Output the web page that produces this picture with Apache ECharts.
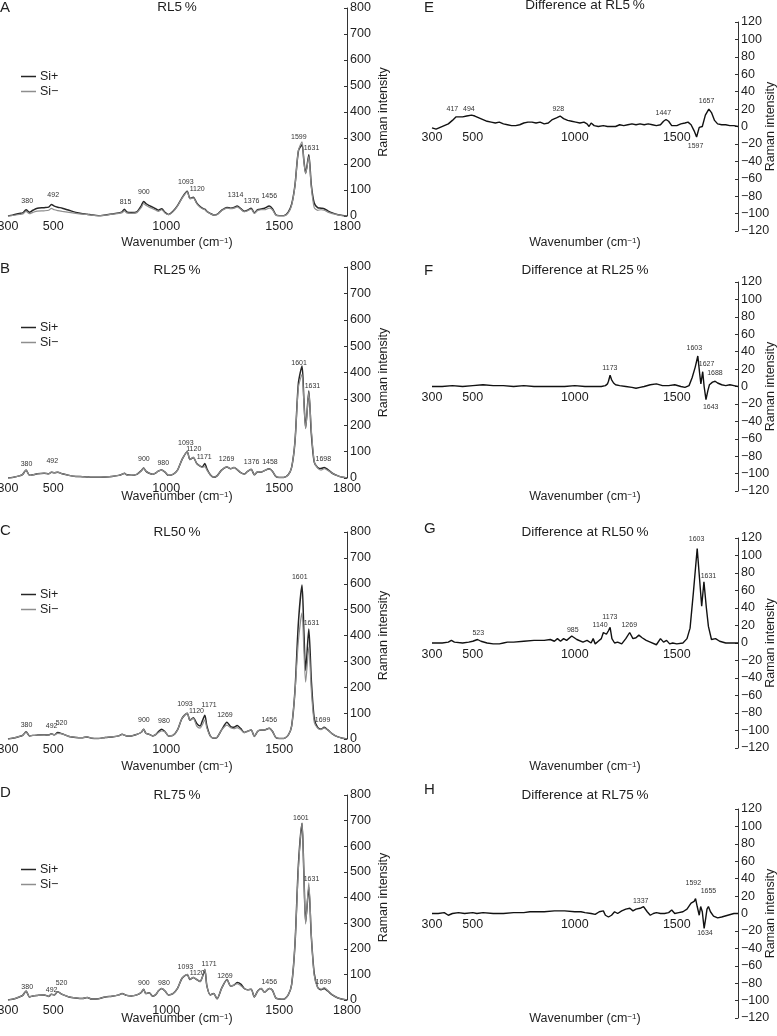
<!DOCTYPE html>
<html><head><meta charset="utf-8">
<script src="https://cdn.jsdelivr.net/npm/echarts@6/dist/echarts.min.js"></script>
<style>html,body{margin:0;padding:0;background:#fff}#c{width:777px;height:1036px}</style>
</head><body><div id="c"></div><script>
// ---------- DATA ----------
// shared wavenumber grid for the Si+/Si- spectra (cm-1)
const wn = [300,320,350,365,380,395,410,430,460,480,
  492,505,520,540,570,600,630,650,670,700,
  730,760,790,805,815,825,845,870,890,900,
  910,925,940,955,965,980,995,1010,1030,1050,
  1070,1093,1105,1120,1135,1150,1160,1171,1180,1195,
  1210,1225,1245,1269,1285,1300,1314,1330,1345,1360,
  1376,1390,1405,1420,1435,1456,1470,1485,1500,1520,
  1540,1555,1570,1585,1601,1609,1617,1631,1642,1655,
  1670,1685,1699,1715,1735,1760,1780,1800];

const rl5Plus = [0,3,10,12,24,14,22,30,32,34,
  44,38,34,30,22,14,9,7,4,1,
  4,8,12,16,26,16,13,16,40,56,
  48,40,34,27,22,28,14,6,18,40,
  70,95,68,72,50,36,30,26,18,10,
  4,6,22,33,30,33,38,28,18,22,
  30,12,24,27,30,38,28,5,1,1,
  15,45,120,250,274,215,165,236,120,50,
  32,30,28,20,12,5,2,0];
const rl5Minus = [0,2,6,8,18,9,14,19,20,22,
  29,24,21,18,14,10,7,6,3,1,
  3,7,10,13,20,12,10,13,33,48,
  41,34,28,22,18,24,11,5,16,38,
  68,93,66,70,48,34,28,24,17,9,
  4,5,20,30,28,30,35,26,16,20,
  27,10,22,24,24,30,24,4,1,1,
  12,42,118,252,285,212,162,228,112,32,
  22,24,22,15,9,4,1,0];

const rl25Plus = [0,2,8,14,30,10,12,16,18,16,
  22,20,22,16,10,6,5,4,3,3,
  4,6,10,14,18,12,10,14,28,38,
  26,18,14,20,26,30,22,10,14,30,
  70,100,70,78,55,45,42,55,35,12,
  3,8,30,42,35,40,32,20,15,25,
  33,12,24,22,28,35,26,6,2,2,
  12,40,140,360,425,300,190,330,170,60,
  40,36,40,32,18,8,3,0];
const rl25Minus = [0,2,8,14,30,10,12,16,18,16,
  22,20,22,16,10,6,5,4,3,3,
  4,6,10,14,18,12,10,14,28,38,
  26,18,14,20,26,30,22,10,14,30,
  70,100,70,78,55,45,40,43,30,12,
  3,8,30,42,35,40,32,20,15,25,
  33,12,24,22,28,35,26,6,2,2,
  12,40,140,345,392,290,187,325,185,62,
  37,30,35,29,18,8,3,0];

const rl50Plus = [0,3,10,14,28,12,14,15,16,15,
  20,16,25,20,10,6,5,8,3,2,
  6,8,12,18,15,12,12,18,26,38,
  22,18,12,18,28,38,28,12,14,35,
  80,100,72,82,60,50,70,92,50,12,
  3,6,35,65,48,45,52,40,25,30,
  35,10,30,35,35,42,30,6,2,2,
  15,50,190,450,595,420,265,425,230,80,
  45,38,45,35,20,8,3,0];
const rl50Minus = [0,3,10,14,28,12,14,15,16,15,
  20,16,22,20,10,6,5,8,3,2,
  6,8,12,18,15,12,12,18,26,38,
  22,18,12,18,24,31,28,12,14,35,
  80,100,72,80,50,42,55,74,42,12,
  3,6,35,54,44,40,44,36,25,30,
  35,10,30,35,35,42,30,6,2,2,
  15,50,185,380,488,350,220,355,190,65,
  42,36,43,34,20,8,3,0];

const rl75Plus = [0,3,12,18,35,12,16,18,20,14,
  22,20,32,22,12,8,6,10,4,5,
  12,15,20,25,22,18,16,20,30,42,
  25,28,15,22,35,45,35,20,25,45,
  85,100,80,88,80,72,90,118,55,20,
  25,5,45,80,55,58,68,62,45,40,
  42,12,35,45,30,45,38,8,4,3,
  20,60,220,528,690,500,304,440,250,104,
  50,40,45,35,20,8,3,0];
const rl75Minus = [0,3,12,18,35,12,16,18,20,14,
  22,20,32,22,12,8,6,10,4,5,
  12,15,20,25,22,18,16,20,30,42,
  25,28,15,22,35,45,35,20,25,45,
  85,100,80,88,80,72,90,121,55,20,
  25,5,45,80,55,58,64,56,45,40,
  42,12,35,45,30,45,38,8,4,3,
  20,60,220,512,690,500,296,457,255,96,
  50,42,48,37,21,8,3,0];

// difference spectra (Si+ minus Si-)
const diff5Wn = [300,320,340,360,380,400,417,430,450,470,494,510,530,550,570,590,610,630,650,670,690,710,730,750,770,790,810,830,850,870,890,910,928,945,965,985,1005,1025,1045,1060,1070,1080,1095,1115,1140,1160,1180,1200,1220,1240,1260,1280,1300,1320,1340,1360,1380,1400,1420,1435,1447,1460,1475,1500,1520,1540,1555,1570,1585,1597,1610,1625,1640,1657,1670,1685,1700,1720,1740,1760,1780,1800];
const diff5 = [-1.5,-3,-1,1,3,7,11,11,11,12,13,12,10,8,6,5,4,5,3,2,1,1,2,4,5,5,4,5,3,4,8,10,12,9,7,6,5,4,5,3,0,4,1,0,1,0,0,0,2,1,2,3,2,3,2,3,2,1,2,6,8,6,1,1,3,4,5,2,-5,-12,-1,0,13,20,16,7,3,2,2,1,1,0];

const diff25Wn = [300,350,400,450,500,550,600,650,700,750,800,850,900,950,1000,1050,1100,1130,1150,1160,1165,1173,1180,1190,1200,1220,1250,1280,1300,1320,1340,1370,1400,1430,1460,1490,1520,1540,1560,1575,1590,1603,1612,1618,1627,1634,1643,1652,1660,1675,1688,1700,1720,1740,1760,1780,1800];
const diff25 = [0,0,1,0,1,2,1,1,0,1,0,0,0,0,1,0,0,0,1,3,6,13,8,4,2,1,0,-1,-2,-1,0,2,3,1,1,2,0,-1,1,10,22,35,15,3,17,0,-15,-5,2,5,6,4,2,1,2,1,0];

const diff50Wn = [300,350,380,395,410,450,480,500,523,540,570,600,630,650,670,700,750,800,850,880,900,915,930,945,960,985,1010,1040,1060,1080,1090,1100,1115,1130,1140,1155,1165,1173,1182,1195,1210,1230,1250,1269,1285,1300,1314,1330,1350,1370,1400,1420,1435,1450,1465,1480,1500,1530,1550,1565,1581,1600,1612,1622,1633,1645,1655,1670,1690,1710,1740,1770,1800];
const diff50 = [0,0,1,3,1,0,1,2,4,2,0,-1,-1,0,1,1,2,3,3,4,2,5,2,5,3,8,4,1,3,0,5,-1,2,5,12,10,14,18,5,0,1,-1,5,12,5,6,9,6,3,1,-2,5,1,3,-1,0,-1,0,5,17,57,108,72,42,70,40,19,4,5,2,0,0,0];

const diff75Wn = [300,330,360,380,400,430,460,500,520,550,600,650,700,750,780,800,850,900,950,1000,1030,1050,1080,1100,1120,1140,1150,1165,1180,1195,1210,1230,1250,1270,1285,1300,1320,1337,1355,1370,1385,1400,1420,1440,1460,1475,1490,1510,1530,1550,1570,1585,1592,1600,1610,1617,1625,1634,1642,1648,1655,1665,1680,1700,1720,1750,1780,1800];
const diff75 = [0,0,1,-2,0,1,0,1,0,1,0,0,1,1,2,2,2,3,3,2,2,1,0,-1,2,3,-2,-4,-2,2,0,3,5,6,3,5,6,8,2,-2,0,1,0,0,1,4,0,1,2,5,12,14,17,8,-2,8,2,-17,-5,5,8,2,-3,-5,-4,-2,0,0];

// tick labels
const leftXTickLabels = [300, 500, 1000, 1500, 1800];
const rightXTickLabels = [300, 500, 1000, 1500];

// peak annotations: [text, wavenumber, intensity at label centre]
const peaksA = [['380',385,59],['492',500,80],['815',820,55],['900',901,92],['1093',1087,130],['1120',1137,102],['1314',1307,79],['1376',1378,59],['1456',1456,75],['1599',1587,302],['1631',1643,260]];
const peaksB = [['380',382,51],['492',496,63],['900',901,71],['980',987,58],['1093',1087,133],['1120',1122,109],['1171',1168,80],['1269',1267,73],['1376',1378,61],['1458',1459,61],['1601',1588,437],['1631',1647,349],['1698',1695,71]];
const peaksC = [['380',382,53],['492',493,49],['520',537,62],['900',901,74],['980',990,68],['1093',1083,136],['1120',1134,107],['1171',1190,132],['1269',1260,91],['1456',1456,72],['1601',1591,626],['1631',1643,449],['1699',1692,72]];
const peaksD = [['380',385,52],['492',493,39],['520',537,65],['900',901,65],['980',990,65],['1093',1085,127],['1120',1137,104],['1171',1190,140],['1269',1260,94],['1456',1456,69],['1601',1596,711],['1631',1643,471],['1699',1695,69]];
const peaksE = [['417',400,20],['494',481,20],['928',919,20],['1447',1434,15],['1657',1646,29],['1597',1592,-23]];
const peaksF = [['1173',1172,21],['1603',1586,44],['1627',1646,26],['1688',1687,15],['1643',1666,-24]];
const peaksG = [['523',527,11],['985',990,15],['1140',1124,21],['1173',1172,30],['1269',1267,21],['1603',1597,119],['1631',1655,77]];
const peaksH = [['1337',1323,14],['1592',1581,35],['1655',1655,26],['1634',1638,-22]];

// ---------- LAYOUT / STYLE ----------
const FONT = '"Liberation Sans", Arial, Helvetica, sans-serif';
const TXT = '#1e1e1e';
const TICK_FS = 12.5;
const leftPanels = [
  {letter:'A', title:'RL5\u2009%', plus:rl5Plus, minus:rl5Minus, peaks:peaksA, top:8, height:208, legendTop:70, letterY:0, titleY:7.5, nameY:243},
  {letter:'B', title:'RL25\u2009%', plus:rl25Plus, minus:rl25Minus, peaks:peaksB, top:267, height:211, legendTop:321, letterY:261, titleY:270, nameY:497},
  {letter:'C', title:'RL50\u2009%', plus:rl50Plus, minus:rl50Minus, peaks:peaksC, top:532, height:207, legendTop:588, letterY:523, titleY:532, nameY:767},
  {letter:'D', title:'RL75\u2009%', plus:rl75Plus, minus:rl75Minus, peaks:peaksD, top:795, height:205, legendTop:863, letterY:785, titleY:795, nameY:1019}
];
const rightPanels = [
  {letter:'E', title:'Difference at RL5\u2009%', x:diff5Wn, y:diff5, peaks:peaksE, top:22, height:209, letterY:0, titleY:5.5, nameY:243},
  {letter:'F', title:'Difference at RL25\u2009%', x:diff25Wn, y:diff25, peaks:peaksF, top:282, height:209, letterY:263, titleY:270, nameY:497},
  {letter:'G', title:'Difference at RL50\u2009%', x:diff50Wn, y:diff50, peaks:peaksG, top:538, height:210, letterY:521, titleY:532, nameY:767},
  {letter:'H', title:'Difference at RL75\u2009%', x:diff75Wn, y:diff75, peaks:peaksH, top:809, height:209, letterY:782, titleY:795, nameY:1019}
];
const L = {left:8, width:339, cx:177};
const R = {left:432, width:306, cx:585};

const pairs = (xs, ys) => xs.map((x, i) => [x, ys[i]]);
const minus = v => v < 0 ? '\u2212' + (-v) : String(v);

function markPoints(peaks) {
  return {
    symbol:'circle', symbolSize:1, silent:true, animation:false,
    itemStyle:{color:'transparent'},
    label:{show:true, position:'inside', formatter:'{b}', fontSize:7, color:'#333', fontFamily:FONT},
    data: peaks.map(p => ({name:p[0], coord:[p[1], p[2]]}))
  };
}

const grid = [], xAxis = [], yAxis = [], series = [], legend = [], graphic = [];

function addTexts(p, cx, leftX) {
  graphic.push({type:'text', x:leftX, y:p.letterY, silent:true,
    style:{text:p.letter, font:'15px ' + FONT, fill:TXT, textVerticalAlign:'top'}});
  graphic.push({type:'text', x:cx, y:p.titleY, silent:true,
    style:{text:p.title, font:'13.5px ' + FONT, fill:TXT, textAlign:'center', textVerticalAlign:'middle'}});
  graphic.push({type:'text', x:cx, y:p.nameY, silent:true,
    style:{text:'Wavenumber (cm{sup|\u22121})', font:'12.5px ' + FONT, fill:TXT, textAlign:'center', textVerticalAlign:'middle',
      rich:{sup:{fontSize:8, fontFamily:FONT, fill:TXT, verticalAlign:'top'}}}});
}

leftPanels.forEach((p, i) => {
  grid.push({left:L.left, width:L.width, top:p.top, height:p.height, outerBoundsMode:'none'});
  xAxis.push({gridIndex:i, type:'value', min:300, max:1800, interval:100,
    axisLine:{show:false}, axisTick:{show:false}, splitLine:{show:false},
    axisLabel:{margin:4, fontSize:TICK_FS, color:TXT, fontFamily:FONT,
      formatter:v => leftXTickLabels.includes(v) ? String(v) : ''}});
  yAxis.push({gridIndex:i, type:'value', position:'right', min:0, max:800, interval:100,
    axisLine:{show:true, lineStyle:{color:'#333', width:1}},
    axisTick:{show:true, inside:true, length:3, lineStyle:{color:'#333'}},
    splitLine:{show:false},
    axisLabel:{margin:3, fontSize:TICK_FS, color:TXT, fontFamily:FONT},
    name:'Raman intensity', nameLocation:'middle', nameRotate:90, nameGap:30, nameMoveOverlap:false,
    nameTextStyle:{fontSize:12.5, color:TXT, fontFamily:FONT}});
  series.push({type:'line', name:'Si+', xAxisIndex:i, yAxisIndex:i, data:pairs(wn, p.plus),
    symbol:'none', smooth:0.25, z:2,
    lineStyle:{color:'#262626', width:1.5}, itemStyle:{color:'#262626'},
    markPoint:markPoints(p.peaks)});
  series.push({type:'line', name:'Si\u2212', xAxisIndex:i, yAxisIndex:i, data:pairs(wn, p.minus),
    symbol:'none', smooth:0.25, z:3,
    lineStyle:{color:'#8e8e8e', width:1.2}, itemStyle:{color:'#8e8e8e'}});
  legend.push({left:21, top:p.legendTop, orient:'vertical', icon:'rect', itemWidth:15, itemHeight:1.5, itemGap:2,
    selectedMode:false, data:['Si+', 'Si\u2212'], textStyle:{fontSize:12.5, color:TXT, fontFamily:FONT, padding:[0,0,0,-1]}, padding:0});
  addTexts(p, L.cx, 0);
});

rightPanels.forEach((p, j) => {
  const i = j + 4;
  grid.push({left:R.left, width:R.width, top:p.top, height:p.height, outerBoundsMode:'none'});
  xAxis.push({gridIndex:i, type:'value', min:300, max:1800, interval:100, position:'bottom',
    offset:-p.height / 2,
    axisLine:{show:false, onZero:false}, axisTick:{show:false}, splitLine:{show:false},
    axisLabel:{margin:5, fontSize:TICK_FS, color:TXT, fontFamily:FONT,
      formatter:v => rightXTickLabels.includes(v) ? String(v) : ''}});
  yAxis.push({gridIndex:i, type:'value', position:'right', min:-120, max:120, interval:20,
    axisLine:{show:true, onZero:false, lineStyle:{color:'#333', width:1}},
    axisTick:{show:true, inside:true, length:3, lineStyle:{color:'#333'}},
    splitLine:{show:false},
    axisLabel:{margin:3, fontSize:TICK_FS, color:TXT, fontFamily:FONT, formatter:minus},
    name:'Raman intensity', nameLocation:'middle', nameRotate:90, nameGap:26, nameMoveOverlap:false,
    nameTextStyle:{fontSize:12.5, color:TXT, fontFamily:FONT}});
  series.push({type:'line', name:'diff' + p.letter, xAxisIndex:i, yAxisIndex:i, data:pairs(p.x, p.y),
    symbol:'none', smooth:false, z:2,
    lineStyle:{color:'#111', width:1.4}, itemStyle:{color:'#111'},
    markPoint:markPoints(p.peaks)});
  addTexts(p, R.cx, 424);
});

const chart = echarts.init(document.getElementById('c'), null, {renderer:'canvas'});
chart.setOption({
  backgroundColor:'#ffffff', animation:false,
  textStyle:{fontFamily:FONT},
  grid, xAxis, yAxis, series, legend, graphic
});
</script></body></html>
